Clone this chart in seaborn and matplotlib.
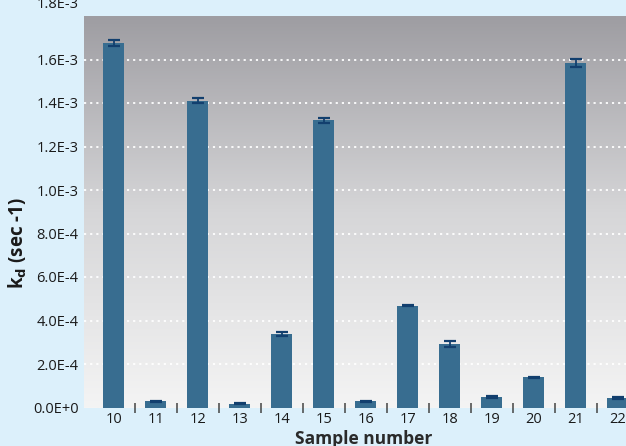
import numpy as np
import pandas as pd
import matplotlib
matplotlib.use("Agg")
import matplotlib.pyplot as plt
import matplotlib.transforms as mtransforms
import seaborn as sns

# Dissociation rate constants per sample with their error
samples = ["10", "11", "12", "13", "14", "15", "16", "17", "18", "19", "20", "21", "22"]
kd = [1.676e-3, 0.028e-3, 1.410e-3, 0.018e-3, 0.338e-3, 1.320e-3, 0.028e-3,
      0.468e-3, 0.292e-3, 0.048e-3, 0.139e-3, 1.583e-3, 0.044e-3]
kd_err = [0.014e-3, 0.003e-3, 0.012e-3, 0.003e-3, 0.010e-3, 0.012e-3, 0.003e-3,
          0.003e-3, 0.016e-3, 0.003e-3, 0.003e-3, 0.018e-3, 0.003e-3]
yticks = [0, 2e-4, 4e-4, 6e-4, 8e-4, 1.0e-3, 1.2e-3, 1.4e-3, 1.6e-3, 1.8e-3]
ytick_labels = ["0.0E+0", "2.0E-4", "4.0E-4", "6.0E-4", "8.0E-4",
                "1.0E-3", "1.2E-3", "1.4E-3", "1.6E-3", "1.8E-3"]

df = pd.DataFrame({"sample": samples, "kd": kd})

sns.set_theme(style="white")
plt.rcParams["font.family"] = ["Open Sans", "DejaVu Sans"]

W, H = 626, 446
fig = plt.figure(figsize=(W / 100, H / 100), dpi=100)
fig.patch.set_facecolor("#dcf0fb")

left, top, bottom = 84, 16, 407.5
right = 639
ax = fig.add_axes([left / W, 1 - bottom / H, (right - left) / W, (bottom - top) / H])

x0, x1 = -0.714, len(samples) - 0.5
bar_color = "#386d90"
sns.barplot(data=df, x="sample", y="kd", order=samples, color=bar_color,
            width=0.5, saturation=1, errorbar=None, linewidth=0, ax=ax, zorder=3)
ax.errorbar(np.arange(len(samples)), kd, yerr=kd_err, fmt="none",
            ecolor="#123f6e", elinewidth=1.3, capsize=4, capthick=1.6, zorder=4)
ax.set_xlabel("")
ax.set_ylabel("")

# vertical gray gradient background, dark at the top
grad = np.linspace(0, 1, 256).reshape(-1, 1)
cmap = matplotlib.colors.LinearSegmentedColormap.from_list(
    "bg", ["#9e9da2", "#d6d6d8", "#f4f4f4"])
ax.imshow(grad, cmap=cmap, aspect="auto", extent=[x0, x1, 0, 1.8e-3],
          zorder=0, origin="upper")
ax.set_xlim(x0, x1)
ax.set_ylim(0, 1.8e-3)

for y in yticks[1:-1]:
    ax.axhline(y, color="white", lw=1.3, ls=(0, (1.2, 2.2)), zorder=1)

for s in ax.spines.values():
    s.set_visible(False)

ax.set_yticks(yticks)
ax.set_yticklabels(ytick_labels)
ax.tick_params(axis="y", length=0, pad=4, labelsize=10.5, colors="#1a1a1a")

# x labels at bar centres, tick marks between categories
ax.set_xticks(np.arange(len(samples)))
ax.set_xticklabels(samples)
ax.tick_params(axis="x", which="major", length=0, pad=3, labelsize=10.5, colors="#1a1a1a")
ax.set_xticks(np.arange(len(samples)) + 0.5, minor=True)
ax.tick_params(axis="x", which="minor", bottom=True, length=7, width=1.1,
               direction="inout", color="#444444")

# top label sits higher than its tick
top_lab = ax.get_yticklabels()[-1]
top_lab.set_transform(top_lab.get_transform() +
                      mtransforms.ScaledTranslation(0, 14 / 100, fig.dpi_scale_trans))

fig.text(364 / W, 1 - 444 / H, "Sample number", fontsize=12.5, fontweight="bold",
         color="#2a2a2a", ha="center", va="baseline")
fig.text(18 / W, 1 - 243 / H, r"k$_\mathbf{d}$ (sec -1)", fontsize=13.5, fontweight="bold",
         color="#1a1a1a", ha="center", va="center", rotation=90)

fig.savefig("out.png", dpi=100, facecolor=fig.get_facecolor())
